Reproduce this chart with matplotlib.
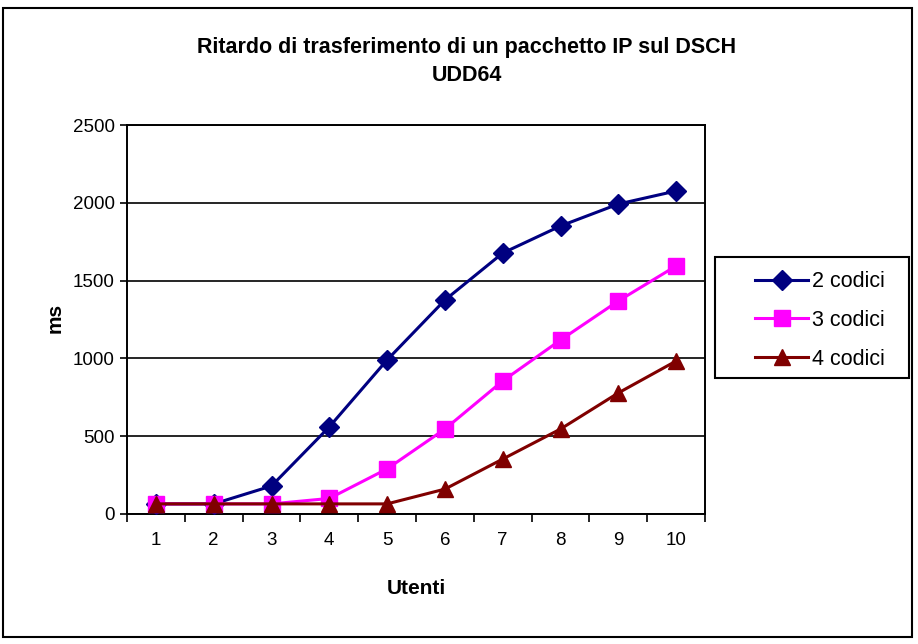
import matplotlib
matplotlib.use("Agg")
import matplotlib.pyplot as plt
from matplotlib.patches import Rectangle
from matplotlib.ticker import FixedLocator, NullFormatter

FONT = ['Liberation Sans', 'DejaVu Sans']
plt.rcParams['font.family'] = FONT

categories = [1, 2, 3, 4, 5, 6, 7, 8, 9, 10]
series_names = ["2 codici", "3 codici", "4 codici"]
codici2 = [65, 65, 180, 560, 990, 1375, 1677, 1851, 1992, 2076]
codici3 = [65, 65, 65, 100, 290, 546, 855, 1118, 1369, 1594]
codici4 = [65, 65, 65, 65, 65, 160, 353, 546, 778, 983]
yticks = [0, 500, 1000, 1500, 2000, 2500]

W, H = 918, 644
def fx(px): return px / W
def fy(py): return 1 - py / H

fig = plt.figure(figsize=(9.18, 6.44), dpi=100)
ax = fig.add_axes([fx(127), fy(514), (705-127)/W, (514-125)/H])

x = list(range(len(categories)))
ax.plot(x, codici2, color="#000080", lw=2.2, marker="D", ms=10, label=series_names[0], zorder=4)
ax.plot(x, codici3, color="#FF00FF", lw=2.2, marker="s", ms=11, label=series_names[1], zorder=5)
ax.plot(x, codici4, color="#800000", lw=2.2, marker="^", ms=12, label=series_names[2], zorder=6)

ax.set_xlim(-0.5, len(categories)-0.5)
ax.set_ylim(0, 2500)
ax.set_yticks(yticks)
ax.set_yticklabels([str(v) for v in yticks], fontsize=13.5)
ax.yaxis.grid(True, color="black", lw=1.2)
ax.set_axisbelow(True)

ax.set_xticks(x)
ax.set_xticklabels([str(c) for c in categories], fontsize=13.5)
ax.tick_params(axis='x', which='major', length=0, pad=13)
ax.xaxis.set_minor_locator(FixedLocator([i - 0.5 for i in range(len(categories)+1)]))
ax.xaxis.set_minor_formatter(NullFormatter())
ax.tick_params(axis='x', which='minor', length=6, width=1.2, direction='out')
ax.tick_params(axis='y', length=5, width=1.2, direction='out', pad=4)
for s in ax.spines.values():
    s.set_linewidth(1.4)
    s.set_color("black")

fig.text(fx(416), fy(588), "Utenti", ha="center", va="center", fontsize=15, fontweight="bold")
fig.text(fx(55), fy(318), "ms", ha="center", va="center", rotation=90, fontsize=15, fontweight="bold")

fig.text(fx(467), fy(53), "Ritardo di trasferimento di un pacchetto IP sul DSCH", ha="center", va="baseline",
         fontsize=15.5, fontweight="bold")
fig.text(fx(467), fy(81), "UDD64", ha="center", va="baseline", fontsize=15.5, fontweight="bold")

# legend frame
fig.patches.append(Rectangle((fx(715), fy(378)), (909-715)/W, (378-257)/H, transform=fig.transFigure,
                             fill=False, edgecolor="black", lw=1.5))
leg = fig.legend(loc="upper left", bbox_to_anchor=(fx(751), fy(267)), fontsize=15.5, frameon=False,
                 handlelength=2.45, labelspacing=0.82, handletextpad=0.2, borderpad=0.2,
                 borderaxespad=0)

fig.patches.append(Rectangle((fx(3), fy(637)), 909/W, 629/H, transform=fig.transFigure,
                             fill=False, edgecolor="black", lw=1.5))

fig.savefig("out.png", dpi=100)
